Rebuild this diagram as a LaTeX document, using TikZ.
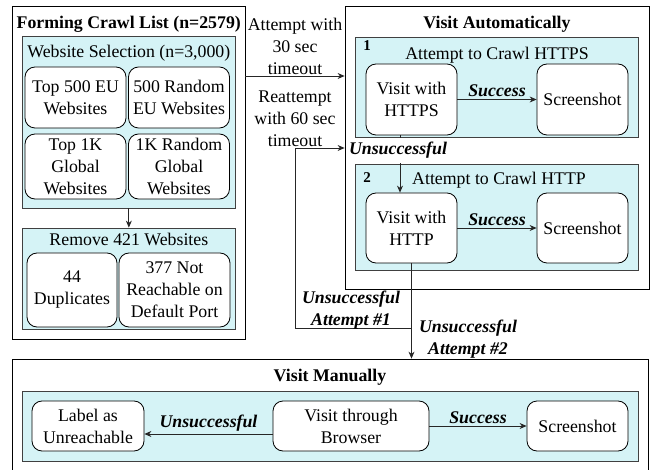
\documentclass[tikz,border=0pt]{standalone}
\usepackage{fontspec}
\setmainfont{Liberation Serif}
\usetikzlibrary{arrows.meta}
\definecolor{panelcol}{RGB}{213,243,246}

\begin{document}
\begin{tikzpicture}[x=1pt,y=-1pt,line width=0.8pt,
  font=\fontsize{17.8}{22}\selectfont,
  frame/.style={draw=black,inner sep=0pt},
  panel/.style={draw=black!75,fill=panelcol,inner sep=0pt},
  card/.style={draw=black,fill=white,rounded corners=10pt,align=center,inner sep=0pt},
  title/.style={font=\fontsize{17.8}{22}\selectfont\bfseries},
  lab/.style={font=\fontsize{17.8}{22}\selectfont\bfseries\itshape,align=center,inner sep=1pt},
  arr/.style={-{Stealth[length=7pt,width=6pt]},draw=black!85}]
 \useasboundingbox (0,0) rectangle (653,470);
 % forming crawl list
 \node[frame,minimum width=232.5,minimum height=333] (crawl) at (128.75,172.5) {};
 \node[title] (crawltitle) at (128.75,24) {Forming Crawl List (n=2579)};
 \node[panel,minimum width=212.3,minimum height=172] (select) at (128.85,122) {};
 \node (selecttitle) at (128.85,53) {Website Selection (n=3,000)};
 \foreach \name/\x/\y/\h/\txt in {top500/75.5/97.5/61/{Top 500 EU\\Websites},
   rand500/179/97.5/61/{500 Random\\EU Websites},
   top1k/75.5/166.5/65/{Top 1K\\Global\\Websites},
   rand1k/179/166.5/65/{1K Random\\Global\\Websites}}{%
   \node[card,minimum width=101,minimum height=\h] (\name) at (\x,\y) {\txt};
 }
 \node[panel,minimum width=212.3,minimum height=101] (remove) at (128.85,278.5) {};
 \node (removetitle) at (128.85,239) {Remove 421 Websites};
 \node[card,minimum width=90,minimum height=74] (dup) at (72,290) {44\\Duplicates};
 \node[card,minimum width=111,minimum height=74] (noport) at (174.5,290) {377 Not\\Reachable on\\Default Port};
 \draw[arr] (select.south) -- (remove.north);
 % visit automatically
 \node[frame,minimum width=304,minimum height=283] (auto) at (497,147.5) {};
 \node[title] (autotitle) at (497,24) {Visit Automatically};
 \node[panel,minimum width=283,minimum height=100] (try1) at (496.5,87) {};
 \node[title,font=\fontsize{15}{18}\selectfont\bfseries] (num1) at (367,46) {1};
 \node (try1title) at (497,55) {Attempt to Crawl HTTPS};
 \node[card,minimum width=91,minimum height=71] (https) at (411.5,99.5) {Visit with\\HTTPS};
 \node[card,minimum width=91,minimum height=71] (shot1) at (582.5,99.5) {Screenshot};
 \node[panel,minimum width=283,minimum height=106] (try2) at (496.5,217) {};
 \node[title,font=\fontsize{15}{18}\selectfont\bfseries] (num2) at (367,178) {2};
 \node (try2title) at (499,180) {Attempt to Crawl HTTP};
 \node[card,minimum width=91,minimum height=70] (http) at (411.5,228) {Visit with\\HTTP};
 \node[card,minimum width=91,minimum height=70] (shot2) at (582.5,228) {Screenshot};
 \draw[arr] (https) -- node[lab,above=1pt] {Success} (shot1);
 \draw[arr] (http) -- node[lab,above=1pt] {Success} (shot2);
 \draw[arr] ([xshift=-11.5pt]https.south) -- ([xshift=-11.5pt]http.north);
 \node[lab,fill=white,minimum height=25,inner sep=0pt] (unsucc) at (398,150.5) {Unsuccessful};
 % timeouts
 \node[align=center] (wait30) at (295,46) {Attempt with\\30 sec\\timeout};
 \node[align=center] (wait60) at (295,119) {Reattempt\\with 60 sec\\timeout};
 \coordinate (hit1) at (0,76);
 \coordinate (hit2) at (295,148);
 \coordinate (bend) at (295,328);
 \draw[arr] (crawl.east |- hit1) -- (auto.west |- hit1);
 \draw[arr] (http.south) |- (bend) -- (hit2) -- (auto.west |- hit2);
 \node[lab] (fail1) at (351,310) {Unsuccessful\\Attempt \#1};
 \node[lab] (fail2) at (468,339) {Unsuccessful\\Attempt \#2};
 % visit manually
 \node[frame,minimum width=635.5,minimum height=113] (manual) at (330.25,415.5) {};
 \draw[arr] (http.south) -- (http.south |- manual.north);
 \node[title] (manualtitle) at (330,377) {Visit Manually};
 \node[panel,minimum width=615.3,minimum height=70] (try3) at (330.35,426) {};
 \node[card,minimum width=112,minimum height=50] (label) at (88,426) {Label as\\Unreachable};
 \node[card,minimum width=156,minimum height=50] (browser) at (351,426) {Visit through\\Browser};
 \node[card,minimum width=101,minimum height=50] (shot3) at (577.5,426) {Screenshot};
 \draw[arr] ([yshift=-8pt]browser.west) -- node[lab,above=1pt] {Unsuccessful} ([yshift=-8pt]label.east);
 \draw[arr] (browser) -- node[lab,above=1pt] {Success} (shot3);
\end{tikzpicture}
\end{document}
